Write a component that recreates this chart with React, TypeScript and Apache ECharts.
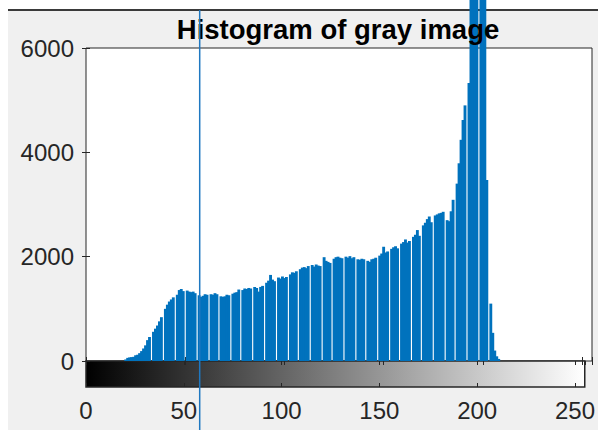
import React, { useEffect, useRef } from "react";
import * as echarts from "echarts";

const TITLE = "Histogram of gray image";
const X_MIN = 0;
const X_MAX = 255;
const X_STEP = 50;
const Y_MIN = 0;
const Y_MAX = 6000;
const Y_STEP = 2000;
const CURSOR_X = 57.3;

// pixel counts per gray level 0..255
const COUNTS = [
  0, 0, 0, 0, 0, 0, 0, 0, 0, 0,
  0, 0, 0, 0, 0, 0, 0, 0, 0, 0,
  30, 60, 70, 75, 80, 110, 120, 150, 190, 240,
  300, 400, 460, 0, 560, 620, 680, 760, 840, 0,
  1000, 1080, 1140, 1180, 1220, 0, 1270, 1360, 1380, 1340,
  0, 1350, 1330, 1320, 1330, 1300, 0, 1260, 1230, 1250,
  1280, 1270, 0, 1280, 1270, 1300, 1280, 0, 1240, 1230,
  1240, 1270, 1260, 0, 1290, 1310, 1320, 1370, 0, 1360,
  1390, 1380, 1400, 1390, 0, 1420, 1400, 1330, 1420, 1440,
  0, 1500, 1540, 1650, 1560, 1530, 0, 1600, 1580, 1620,
  1590, 1610, 0, 1660, 1700, 1690, 1720, 0, 1760, 1790,
  1800, 1780, 1820, 0, 1840, 1810, 1850, 1830, 1820, 0,
  1990, 1920, 1900, 1880, 0, 1960, 1990, 2000, 1980, 1970,
  0, 2000, 1980, 2010, 1970, 1990, 0, 1950, 1940, 1960,
  1950, 0, 1920, 1900, 1950, 1960, 1980, 0, 2020, 2060,
  2190, 2080, 2100, 0, 2150, 2180, 2200, 2160, 0, 2250,
  2280, 2330, 2270, 2300, 0, 2380, 2420, 2510, 2400, 0,
  2600, 2650, 2720, 2770, 2660, 0, 2790, 2810, 2830, 2840,
  2860, 0, 2700, 2680, 2870, 3090, 0, 3400, 3790, 4240,
  4620, 4900, 0, 5330, 8200, 9000, 9200, 8800, 0, 9100,
  8800, 7600, 3470, 0, 1100, 540, 200, 90, 40, 0,
  0, 0, 0, 0, 0, 0, 0, 0, 0, 0,
  0, 0, 0, 0, 0, 0, 0, 0, 0, 0,
  0, 0, 0, 0, 0, 0, 0, 0, 0, 0,
  0, 0, 0, 0, 0, 0, 0, 0, 0, 0,
  0, 0, 0, 0, 0, 0,
];

const FONT = "'Liberation Sans', Arial, Helvetica, sans-serif";
const AXIS_COLOR = "#262626";
const BAR_COLOR = "#0072BD";

function tickAxis(extra: any) {
  return {
    type: "value",
    min: X_MIN,
    max: X_MAX,
    interval: X_STEP,
    axisLine: { show: false },
    axisTick: { show: true, inside: true, length: 4, lineStyle: { color: AXIS_COLOR, width: 1 } },
    axisLabel: { show: false },
    splitLine: { show: false },
    ...extra,
  };
}

export default function App() {
  const ref = useRef<HTMLDivElement>(null);

  useEffect(() => {
    if (!ref.current) return;
    const chart = echarts.init(ref.current, null, { renderer: "svg" });
    const gradient = new echarts.graphic.LinearGradient(0, 0, 1, 0, [
      { offset: 0, color: "#000000" },
      { offset: 1, color: "#ffffff" },
    ]);
    const barData = COUNTS.map((v, i) => [i, v]).filter((d) => d[1] > 0);
    const option: any = {
      animation: false,
      title: {
        text: TITLE,
        left: 333,
        top: 10,
        textAlign: "center",
        textStyle: { fontFamily: FONT, fontWeight: "bold", fontSize: 27.5, color: "#000" },
      },
      grid: [
        {
          left: 86, right: 6, top: 48, bottom: 69,
          show: true, backgroundColor: "#ffffff", borderColor: AXIS_COLOR, borderWidth: 1,
        },
        {
          left: 86, right: 6, top: 361, bottom: 43,
          show: true, backgroundColor: gradient, borderColor: AXIS_COLOR, borderWidth: 1.5,
        },
      ],
      xAxis: [
        tickAxis({ gridIndex: 0, position: "bottom" }),
        tickAxis({ gridIndex: 0, position: "top" }),
        tickAxis({
          gridIndex: 1,
          position: "bottom",
          axisLabel: {
            show: true,
            margin: 11,
            fontSize: 24,
            fontFamily: FONT,
            color: AXIS_COLOR,
            showMaxLabel: false,
            formatter: (v: number) => (v % X_STEP === 0 ? String(v) : ""),
          },
        }),
        tickAxis({ gridIndex: 1, position: "top" }),
      ],
      yAxis: [
        {
          gridIndex: 0, type: "value", position: "left",
          min: Y_MIN, max: Y_MAX, interval: Y_STEP,
          axisLine: { show: false },
          axisTick: { show: true, inside: true, length: 4, lineStyle: { color: AXIS_COLOR } },
          axisLabel: {
            show: true, margin: 12, fontSize: 24, fontFamily: FONT, color: AXIS_COLOR,
            formatter: (v: number) => String(v),
          },
          splitLine: { show: false },
        },
        {
          gridIndex: 0, type: "value", position: "right",
          min: Y_MIN, max: Y_MAX, interval: Y_STEP,
          axisLine: { show: false },
          axisTick: { show: true, inside: true, length: 4, lineStyle: { color: AXIS_COLOR } },
          axisLabel: { show: false },
          splitLine: { show: false },
        },
        { gridIndex: 1, type: "value", min: 0, max: 1, show: false },
      ],
      series: [
        {
          type: "custom",
          name: "counts",
          xAxisIndex: 0,
          yAxisIndex: 0,
          clip: false,
          data: barData,
          encode: { x: 0, y: 1 },
          renderItem: (params: any, api: any) => {
            const x = api.value(0);
            const y = api.value(1);
            const top = api.coord([x, y]);
            const base = api.coord([x, 0]);
            const w = api.size([1, 0])[0] * 1.45;
            return {
              type: "rect",
              shape: { x: top[0] - w / 2, y: top[1], width: w, height: base[1] - top[1] },
              style: { fill: BAR_COLOR, stroke: null },
            };
          },
        },
      ],
    };
    chart.setOption(option);
    const px = chart.convertToPixel({ xAxisIndex: 0 }, CURSOR_X) as number;
    chart.setOption({
      graphic: [
        {
          type: "line",
          z: 100,
          shape: { x1: px, y1: 10, x2: px, y2: 430 },
          style: { stroke: "#1f78c1", lineWidth: 1.5 },
        },
      ],
    });
    return () => chart.dispose();
  }, []);

  return (
    <div style={{ position: "absolute", left: 0, top: 0, width: 598, height: 430, background: "#ffffff", overflow: "hidden" }}>
      <div
        style={{
          position: "absolute",
          left: 8,
          top: 9,
          width: 590,
          height: 421,
          background: "#f0f0f0",
          borderTop: "2px solid #3a3a3a",
          boxSizing: "border-box",
        }}
      />
      <div ref={ref} style={{ position: "absolute", left: 0, top: 0, width: 598, height: 430 }} />
    </div>
  );
}
